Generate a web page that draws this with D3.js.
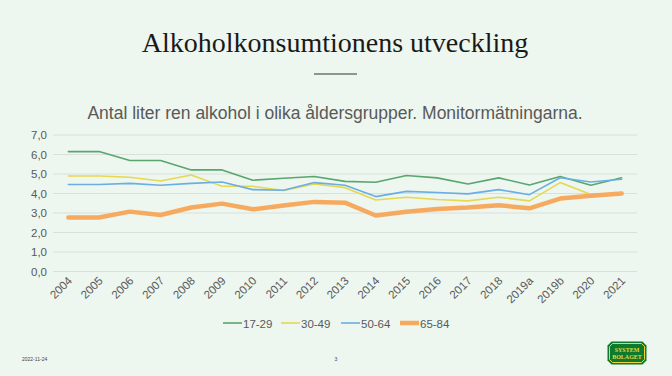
<!DOCTYPE html>
<html>
<head>
<meta charset="utf-8">
<script src="https://cdn.jsdelivr.net/npm/d3@7"></script>
<style>
  body { margin: 0; background: #edf6ef; }
  svg { display: block; }
</style>
</head>
<body>
<svg id="chart" width="672" height="376"></svg>
<script>
// data
const years = ["2004","2005","2006","2007","2008","2009","2010","2011","2012","2013","2014","2015","2016","2017","2018","2019a","2019b","2020","2021"]
const g1729 = [6.15,6.15,5.69,5.69,5.21,5.21,4.68,4.78,4.87,4.62,4.58,4.92,4.80,4.49,4.80,4.44,4.87,4.42,4.81]
const g3049 = [4.90,4.90,4.83,4.64,4.95,4.37,4.37,4.15,4.49,4.30,3.67,3.81,3.69,3.62,3.81,3.62,4.56,3.95,3.97]
const g5064 = [4.46,4.46,4.52,4.42,4.52,4.59,4.20,4.17,4.56,4.42,3.84,4.11,4.05,3.98,4.20,3.94,4.81,4.59,4.73]
const g6584 = [2.77,2.77,3.07,2.90,3.28,3.48,3.19,3.38,3.57,3.53,2.87,3.06,3.21,3.28,3.40,3.24,3.74,3.88,4.00]
const yTicks = [0,1,2,3,4,5,6,7]
const seriesNames = ["17-29","30-49","50-64","65-84"]

const series = [
    {name: seriesNames[0], values: g1729, color: "#59a66f", width: 1.6},
    {name: seriesNames[1], values: g3049, color: "#e6d851", width: 1.6},
    {name: seriesNames[2], values: g5064, color: "#6aaee3", width: 1.6},
    {name: seriesNames[3], values: g6584, color: "#f6aa5f", width: 4.5}
]

let svg = d3.select("#chart")
let dims = {left: 53, right: 637, top: 135, bottom: 271.5}

// titles
svg.append("text").attr("x", 335).attr("y", 52).attr("text-anchor", "middle")
    .style("font-family", "'Liberation Serif', 'DejaVu Serif', serif")
    .style("font-size", "28px").attr("fill", "#1a1a1a")
    .text("Alkoholkonsumtionens utveckling")
svg.append("line").attr("x1", 314).attr("x2", 357).attr("y1", 74).attr("y2", 74)
    .attr("stroke", "#333").attr("stroke-width", 1)
svg.append("text").attr("x", 335).attr("y", 119).attr("text-anchor", "middle")
    .style("font-family", "'Liberation Sans', Arial, sans-serif")
    .style("font-size", "17.5px").attr("fill", "#595959")
    .text("Antal liter ren alkohol i olika åldersgrupper. Monitormätningarna.")

let xscale = d3.scalePoint().domain(years).range([dims.left, dims.right]).padding(0.5)
let yscale = d3.scaleLinear().domain([0, 7]).range([dims.bottom, dims.top])

// gridlines
svg.append("g").selectAll("line").data(yTicks).join("line")
    .attr("x1", dims.left).attr("x2", dims.right)
    .attr("y1", d => yscale(d)).attr("y2", d => yscale(d))
    .attr("stroke", "#dadfdc").attr("stroke-width", 1)

// y axis
let axisy = d3.axisLeft(yscale).tickValues(yTicks).tickSize(0).tickPadding(6)
    .tickFormat(d => d3.format(".1f")(d).replace(".", ","))
let gy = svg.append("g").attr("transform", `translate(${dims.left},0)`).call(axisy)
gy.select(".domain").remove()
gy.selectAll("text").style("font-family", "'Liberation Sans', Arial, sans-serif")
    .style("font-size", "11.5px").attr("fill", "#595959")

// x axis, rotated labels
let axisx = d3.axisBottom(xscale).tickSize(0).tickPadding(0)
let gx = svg.append("g").attr("transform", `translate(0,${dims.bottom})`).call(axisx)
gx.select(".domain").remove()
gx.selectAll("text")
    .attr("y", 0).attr("x", 0).attr("dy", 0)
    .attr("transform", "translate(4,10) rotate(-45)")
    .style("text-anchor", "end")
    .style("font-family", "'Liberation Sans', Arial, sans-serif")
    .style("font-size", "11.5px").attr("fill", "#595959")

// lines
let line = d3.line().x((d, i) => xscale(years[i])).y(d => yscale(d))
svg.append("g").selectAll("path").data(series).join("path")
    .attr("d", d => line(d.values))
    .attr("fill", "none")
    .attr("stroke", d => d.color)
    .attr("stroke-width", d => d.width)
    .attr("stroke-linejoin", "round")
    .attr("stroke-linecap", "round")

// legend
let legendX = [223, 281, 341, 400]
let lg = svg.append("g").selectAll("g").data(series).join("g")
    .attr("transform", (d, i) => `translate(${legendX[i]},323)`)
lg.append("line").attr("x1", 0).attr("x2", 19).attr("y1", 0).attr("y2", 0)
    .attr("stroke", d => d.color).attr("stroke-width", d => d.width)
lg.append("text").attr("x", 20).attr("y", 4.5)
    .style("font-family", "'Liberation Sans', Arial, sans-serif")
    .style("font-size", "11.5px").attr("fill", "#595959")
    .text(d => d.name)

// footer
svg.append("text").attr("x", 22).attr("y", 361)
    .style("font-family", "'Liberation Sans', Arial, sans-serif")
    .style("font-size", "5px").attr("fill", "#444").text("2022-11-24")
svg.append("text").attr("x", 336).attr("y", 361).attr("text-anchor", "middle")
    .style("font-family", "'Liberation Sans', Arial, sans-serif")
    .style("font-size", "5px").attr("fill", "#444").text("3")

// logo
let logo = svg.append("g").attr("transform", "translate(627,353)")
let oct = (w, h, c) => [[-w+c,-h],[w-c,-h],[w,-h+c],[w,h-c],[w-c,h],[-w+c,h],[-w,h-c],[-w,-h+c]].map(p => p.join(",")).join(" ")
logo.append("polygon").attr("points", oct(19.5, 11.5, 4)).attr("fill", "#0f7a2e")
logo.append("polygon").attr("points", oct(17.5, 9.5, 3)).attr("fill", "none")
    .attr("stroke", "#e8d43a").attr("stroke-width", 1)
logo.selectAll("text").data(["SYSTEM", "BOLAGET"]).join("text")
    .attr("x", 0).attr("y", (d, i) => i == 0 ? -1 : 6)
    .attr("text-anchor", "middle")
    .style("font-family", "'Liberation Serif', serif").style("font-weight", "bold")
    .style("font-size", "6px").attr("fill", "#e8d43a")
    .text(d => d)
</script>
</body>
</html>
